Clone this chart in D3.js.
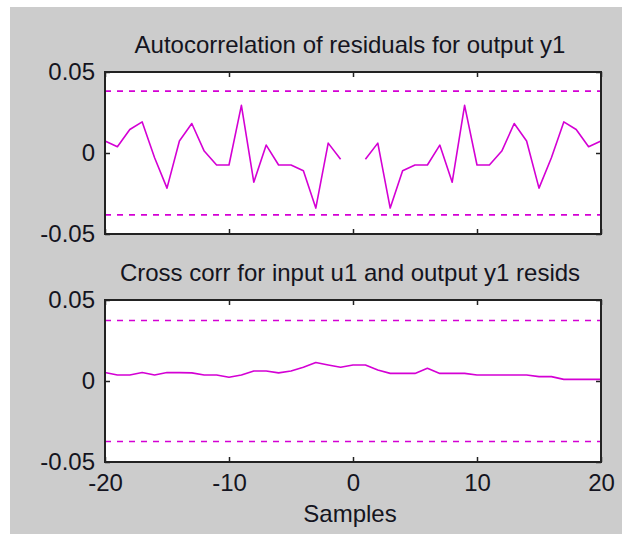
<!DOCTYPE html>
<html>
<head>
<meta charset="utf-8">
<script src="https://cdn.jsdelivr.net/npm/d3@7"></script>
<style>
  html, body { margin: 0; padding: 0; background: #ffffff; }
  svg { display: block; }
  text { font-family: "Liberation Sans", Arial, Helvetica, sans-serif; fill: #141420; }
</style>
</head>
<body>
<svg id="chart" width="622" height="534"></svg>
<script>
// ---- data ----
const lags = [-20,-19,-18,-17,-16,-15,-14,-13,-12,-11,-10,-9,-8,-7,-6,-5,-4,-3,-2,-1,0,
               1,2,3,4,5,6,7,8,9,10,11,12,13,14,15,16,17,18,19,20];
// autocorrelation of residuals (lag 0 not shown)
const autoCorr = [0.0074,0.0039,0.0145,0.0192,-0.0029,-0.0217,0.0074,0.0182,0.0012,-0.0074,
                  -0.0074,0.0294,-0.0180,0.0049,-0.0074,-0.0074,-0.0110,-0.0340,0.0061,-0.0039,
                  null,
                  -0.0039,0.0061,-0.0340,-0.0110,-0.0074,-0.0074,0.0049,-0.0180,0.0294,-0.0074,
                  -0.0074,0.0012,0.0182,0.0074,-0.0217,-0.0029,0.0192,0.0145,0.0039,0.0074];
// cross correlation input u1 / output y1 residuals
const crossCorr = [0.0052,0.0037,0.0037,0.0052,0.0037,0.0052,0.0052,0.0050,0.0037,0.0037,
                   0.0023,0.0037,0.0062,0.0062,0.0050,0.0062,0.0085,0.0114,0.0099,0.0085,
                   0.0099,
                   0.0099,0.0068,0.0047,0.0047,0.0047,0.0078,0.0047,0.0047,0.0047,0.0037,
                   0.0037,0.0037,0.0037,0.0037,0.0027,0.0027,0.0010,0.0010,0.0010,0.0010];
const autoConf = 0.0382;
const crossConf = 0.0373;
const xTicks = [-20,-10,0,10,20];
const xTickLabels = ["-20","-10","0","10","20"];
const yTicks = [-0.05,0,0.05];
const yTickLabels = ["-0.05","0","0.05"];
const titles = ["Autocorrelation of residuals for output y1",
                "Cross corr for input u1 and output y1 resids"];
const xLabel = "Samples";

// ---- layout ----
const svg = d3.select("#chart");
const LINE = "#d400d4";
const AX = "#222222";
svg.append("rect").attr("x",10).attr("y",7).attr("width",612).attr("height",527).attr("fill","#cccccc");

const left = 105, right = 601;
const panels = [
  {top:72, bottom:234, data:autoCorr, conf:autoConf, title:titles[0], xlabels:false},
  {top:300, bottom:462, data:crossCorr, conf:crossConf, title:titles[1], xlabels:true}
];
const x = d3.scaleLinear().domain([-20,20]).range([left,right]);

panels.forEach(p => {
  const y = d3.scaleLinear().domain([-0.05,0.05]).range([p.bottom,p.top]);
  const g = svg.append("g");
  g.append("rect").attr("x",left).attr("y",p.top).attr("width",right-left).attr("height",p.bottom-p.top).attr("fill","#ffffff");

  // confidence lines
  [p.conf,-p.conf].forEach(c => {
    g.append("line").attr("x1",x(-20)).attr("x2",x(20)).attr("y1",y(c)).attr("y2",y(c))
      .attr("stroke",LINE).attr("stroke-width",1.6).attr("stroke-dasharray","6,6");
  });

  // data line
  const line = d3.line().defined(d => d[1] !== null).x(d => x(d[0])).y(d => y(d[1]));
  g.append("path").datum(lags.map((l,i) => [l,p.data[i]]))
    .attr("d",line).attr("fill","none").attr("stroke",LINE).attr("stroke-width",1.6)
    .attr("stroke-linejoin","round");

  // axes (inside ticks)
  const axB = d3.axisBottom(x).tickValues(xTicks).tickSize(-5).tickPadding(12)
    .tickFormat((d,i) => p.xlabels ? xTickLabels[i] : "");
  const axT = d3.axisTop(x).tickValues(xTicks).tickSize(-5).tickFormat("");
  const axL = d3.axisLeft(y).tickValues(yTicks).tickSize(-5).tickPadding(10)
    .tickFormat((d,i) => yTickLabels[i]);
  const axR = d3.axisRight(y).tickValues(yTicks).tickSize(-5).tickFormat("");
  const gb = g.append("g").attr("transform",`translate(0,${p.bottom})`).call(axB);
  const gt = g.append("g").attr("transform",`translate(0,${p.top})`).call(axT);
  const gl = g.append("g").attr("transform",`translate(${left},0)`).call(axL);
  const gr = g.append("g").attr("transform",`translate(${right},0)`).call(axR);
  [gb,gt,gl,gr].forEach(a => {
    a.select(".domain").remove();
    a.selectAll("line").attr("stroke",AX).attr("stroke-width",1.5);
    a.selectAll("text").attr("font-size",24).attr("font-family","'Liberation Sans', Arial, sans-serif").attr("fill","#141420");
  });

  // box
  g.append("rect").attr("x",left).attr("y",p.top).attr("width",right-left).attr("height",p.bottom-p.top)
    .attr("fill","none").attr("stroke",AX).attr("stroke-width",2);

  // title
  g.append("text").attr("x",350).attr("y",p.top-19).attr("text-anchor","middle")
    .attr("font-size",24).text(p.title);
});

svg.append("text").attr("x",350).attr("y",522).attr("text-anchor","middle")
  .attr("font-size",24).text(xLabel);
</script>
</body>
</html>
